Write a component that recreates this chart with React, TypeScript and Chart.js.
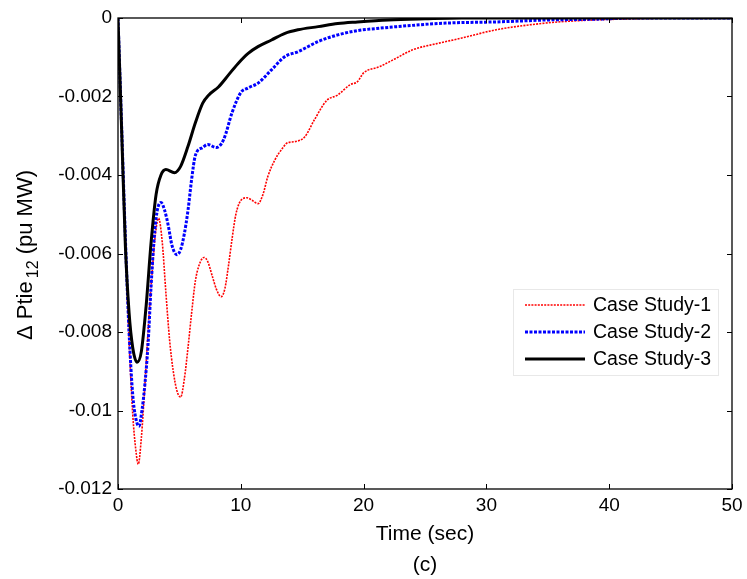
import React, { useEffect, useRef } from "react";
import { Chart, registerables } from "chart.js";

Chart.register(...registerables);

const case1Time = [0, 0.3, 0.6, 0.9, 1.2, 1.45, 1.65, 1.9, 2.2, 2.5, 2.8, 3.05, 3.3, 3.6, 3.9, 4.2, 4.5, 4.8, 5.1, 5.4, 5.7, 6.0, 6.3, 6.6, 7.0, 7.3, 7.7, 8.0, 8.4, 8.7, 9.0, 9.3, 9.6, 10.0, 10.5, 11.0, 11.4, 11.8, 12.2, 12.8, 13.3, 13.8, 14.4, 15.2, 16.0, 17.0, 17.9, 18.9, 19.5, 20.0, 21.3, 22.5, 24.0, 26.0, 28.0, 30.8, 34.8, 37.4, 42.0, 46.0, 50];
const case1Values = [0, -0.0028, -0.0056, -0.0082, -0.0101, -0.011, -0.01137, -0.0107, -0.0093, -0.0077, -0.0064, -0.0055, -0.0051, -0.0057, -0.007, -0.0082, -0.009, -0.0095, -0.00966, -0.0092, -0.0084, -0.0075, -0.0067, -0.0063, -0.0061, -0.0062, -0.0066, -0.0069, -0.0071, -0.0069, -0.0063, -0.0056, -0.005, -0.00465, -0.00458, -0.00466, -0.00473, -0.0045, -0.00404, -0.0036, -0.00336, -0.00318, -0.00315, -0.00303, -0.00259, -0.0021, -0.00196, -0.0017, -0.00162, -0.0014, -0.00124, -0.00105, -0.00081, -0.00065, -0.00051, -0.0003, -0.00013, -0.00007, -0.00002, 0, 0];

const case2Time = [0, 0.3, 0.6, 0.9, 1.2, 1.45, 1.7, 1.95, 2.2, 2.45, 2.7, 3.0, 3.2, 3.5, 3.8, 4.1, 4.4, 4.8, 5.1, 5.4, 5.7, 6.0, 6.3, 6.9, 7.3, 8.0, 8.6, 9.3, 10.0, 10.6, 11.4, 12.5, 13.6, 14.65, 16.3, 17.9, 19.5, 21.0, 22.7, 26.7, 30.8, 35.0, 38.8, 42.0, 50];
const case2Values = [0, -0.0028, -0.0056, -0.008, -0.0096, -0.0102, -0.0104, -0.01, -0.0093, -0.0083, -0.0068, -0.0054, -0.0049, -0.0047, -0.0049, -0.0053, -0.0058, -0.00603, -0.0059, -0.0055, -0.0049, -0.0041, -0.0035, -0.0033, -0.00322, -0.0033, -0.0031, -0.0024, -0.0019, -0.00178, -0.00166, -0.00132, -0.00098, -0.00086, -0.0006, -0.00043, -0.00032, -0.00027, -0.00022, -0.00013, -0.0001, -0.00005, -0.00003, 0, 0];

const case3Time = [0, 0.3, 0.6, 0.9, 1.2, 1.55, 1.9, 2.3, 2.7, 3.1, 3.5, 3.9, 4.6, 5.1, 5.7, 6.3, 6.9, 7.4, 8.2, 9.0, 9.8, 10.6, 11.4, 12.5, 13.6, 14.65, 16.3, 17.9, 19.5, 22.0, 25.0, 28.0, 50];
const case3Values = [0, -0.0029, -0.0058, -0.0075, -0.0084, -0.00877, -0.0085, -0.0073, -0.0057, -0.0045, -0.004, -0.00386, -0.00394, -0.00378, -0.00327, -0.00267, -0.00217, -0.00196, -0.00175, -0.00145, -0.00115, -0.0009, -0.00073, -0.00056, -0.00039, -0.0003, -0.00022, -0.00014, -0.0001, -0.00005, -0.00002, 0, 0];

const seriesNames = ["Case Study-1", "Case Study-2", "Case Study-3"];
const xTickValues = [0, 10, 20, 30, 40, 50];
const xTickLabels = ["0", "10", "20", "30", "40", "50"];
const yTickValues = [-0.012, -0.01, -0.008, -0.006, -0.004, -0.002, 0];
const yTickLabels = ["-0.012", "-0.01", "-0.008", "-0.006", "-0.004", "-0.002", "0"];
const xTitle = "Time (sec)";
const caption = "(c)";

const FONT = "'Liberation Sans', Arial, sans-serif";

const W = 747;
const H = 579;
const LEFT = 118;
const RIGHT = 732;
const TOP = 18;
const BOTTOM = 489;

const styles = [
  { color: "#ff0000", width: 1.6, dash: [2, 1.2] },
  { color: "#0000ff", width: 3, dash: [3, 1.5] },
  { color: "#000000", width: 3, dash: [] as number[] },
];

const decorPlugin = {
  id: "decor",
  afterDatasetsDraw(chart: any) {
    const ctx = chart.ctx as CanvasRenderingContext2D;
    const ca = chart.chartArea;
    const xs = chart.scales.x;
    const ys = chart.scales.y;
    ctx.save();
    // box
    ctx.strokeStyle = "#000";
    ctx.lineWidth = 1.3;
    ctx.setLineDash([]);
    ctx.strokeRect(ca.left, ca.top, ca.right - ca.left, ca.bottom - ca.top);
    // inner ticks
    const tl = 5;
    ctx.beginPath();
    xTickValues.forEach((v) => {
      const px = Math.round(xs.getPixelForValue(v)) + 0.5;
      ctx.moveTo(px, ca.bottom);
      ctx.lineTo(px, ca.bottom - tl);
      ctx.moveTo(px, ca.top);
      ctx.lineTo(px, ca.top + tl);
    });
    yTickValues.forEach((v) => {
      const py = Math.round(ys.getPixelForValue(v)) + 0.5;
      ctx.moveTo(ca.left, py);
      ctx.lineTo(ca.left + tl, py);
      ctx.moveTo(ca.right, py);
      ctx.lineTo(ca.right - tl, py);
    });
    ctx.lineWidth = 1;
    ctx.stroke();

    // x title and caption
    ctx.fillStyle = "#000";
    ctx.textAlign = "center";
    ctx.textBaseline = "middle";
    ctx.font = `21px ${FONT}`;
    const cx = (ca.left + ca.right) / 2;
    ctx.fillText(xTitle, cx, 534);
    ctx.fillText(caption, cx, 565);

    // y title with subscript
    ctx.save();
    ctx.translate(27, 255);
    ctx.rotate(-Math.PI / 2);
    const p1 = "\u0394 Ptie";
    const sub = "12";
    const p2 = " (pu MW)";
    const big = `22px ${FONT}`;
    const small = `16px ${FONT}`;
    ctx.font = big;
    const w1 = ctx.measureText(p1).width;
    const w3 = ctx.measureText(p2).width;
    ctx.font = small;
    const w2 = ctx.measureText(sub).width + 3;
    const total = w1 + w2 + w3;
    const x0 = -total / 2;
    ctx.textAlign = "left";
    ctx.textBaseline = "alphabetic";
    ctx.font = big;
    ctx.fillText(p1, x0, 5);
    ctx.font = small;
    ctx.fillText(sub, x0 + w1 + 3, 11);
    ctx.font = big;
    ctx.fillText(p2, x0 + w1 + w2, 5);
    ctx.restore();

    // legend
    const lx = 513, ly = 289, lw = 205, lh = 86;
    ctx.fillStyle = "#fff";
    ctx.fillRect(lx, ly, lw, lh);
    ctx.strokeStyle = "#e8e8e8";
    ctx.lineWidth = 1;
    ctx.strokeRect(lx + 0.5, ly + 0.5, lw, lh);
    const rows = [305, 332, 359];
    seriesNames.forEach((name, i) => {
      const s = styles[i];
      ctx.beginPath();
      ctx.strokeStyle = s.color;
      ctx.lineWidth = s.width;
      ctx.setLineDash(s.dash);
      ctx.moveTo(525, rows[i]);
      ctx.lineTo(585, rows[i]);
      ctx.stroke();
      ctx.setLineDash([]);
      ctx.fillStyle = "#000";
      ctx.font = `19.5px ${FONT}`;
      ctx.textAlign = "left";
      ctx.textBaseline = "middle";
      ctx.fillText(name, 593, rows[i] + 1);
    });
    ctx.restore();
  },
};

function mk(t: number[], v: number[]) {
  return t.map((x, i) => ({ x, y: v[i] }));
}

export default function App() {
  const ref = useRef<HTMLCanvasElement>(null);
  useEffect(() => {
    document.body.style.margin = "0";
    const canvas = ref.current!;
    const datasets = [
      { label: seriesNames[0], data: mk(case1Time, case1Values), order: 3 },
      { label: seriesNames[1], data: mk(case2Time, case2Values), order: 2 },
      { label: seriesNames[2], data: mk(case3Time, case3Values), order: 1 },
    ].map((d, i) => ({
      ...d,
      borderColor: styles[i].color,
      borderWidth: styles[i].width,
      borderDash: styles[i].dash,
      pointRadius: 0,
      fill: false,
      cubicInterpolationMode: "monotone" as const,
    }));
    const chart = new Chart(canvas, {
      type: "line",
      data: { datasets },
      options: {
        responsive: false,
        animation: false,
        devicePixelRatio: 1,
        layout: { padding: { left: 0, top: TOP, right: W - RIGHT, bottom: 0 } },
        plugins: { legend: { display: false }, tooltip: { enabled: false } },
        scales: {
          x: {
            type: "linear",
            min: 0,
            max: 50,
            afterFit: (s: any) => {
              s.height = H - BOTTOM;
              s.paddingLeft = 0;
              s.paddingRight = 0;
            },
            afterBuildTicks: (s: any) => {
              s.ticks = xTickValues.map((value) => ({ value }));
            },
            ticks: {
              padding: 5,
              color: "#000",
              font: { size: 19, family: FONT },
              maxRotation: 0,
              callback: (_v: any, i: number) => xTickLabels[i],
            },
            grid: { display: false, drawTicks: false },
            border: { display: false },
          },
          y: {
            type: "linear",
            min: -0.012,
            max: 0,
            afterFit: (s: any) => {
              s.width = LEFT;
              s.paddingTop = 0;
              s.paddingBottom = 0;
            },
            afterBuildTicks: (s: any) => {
              s.ticks = yTickValues.map((value) => ({ value }));
            },
            ticks: {
              padding: 6,
              color: "#000",
              font: { size: 19, family: FONT },
              callback: (_v: any, i: number) => yTickLabels[i],
            },
            grid: { display: false, drawTicks: false },
            border: { display: false },
          },
        },
      },
      plugins: [decorPlugin],
    });
    return () => chart.destroy();
  }, []);
  return (
    <div style={{ width: W, height: H, background: "#fff" }}>
      <canvas ref={ref} width={W} height={H} style={{ display: "block" }} />
    </div>
  );
}
